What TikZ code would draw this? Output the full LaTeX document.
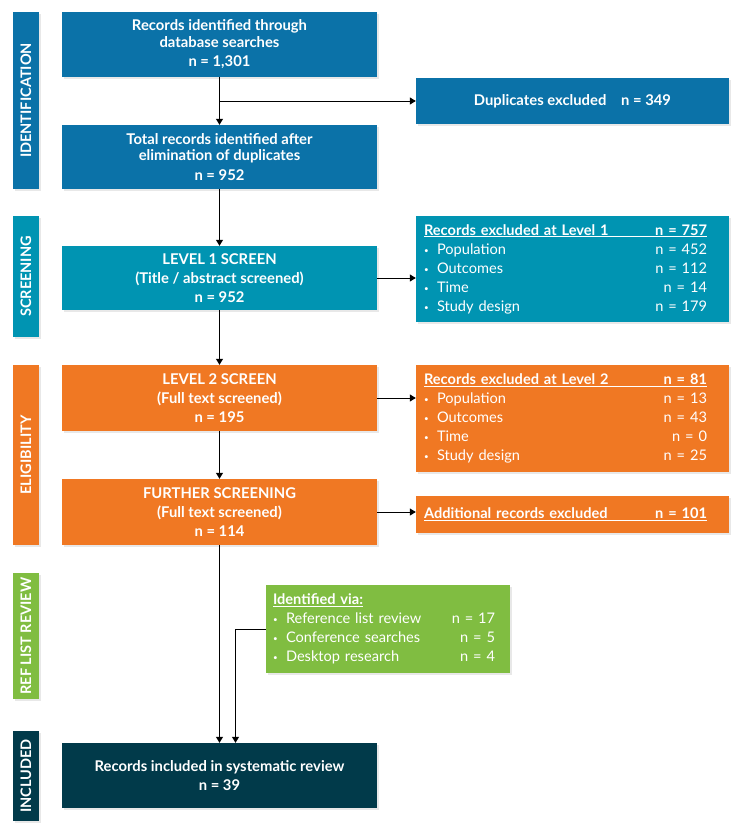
\documentclass[tikz,border=0pt]{standalone}
\usepackage{fontspec}
\setmainfont{Lato}
\usetikzlibrary{arrows.meta, positioning, shadows}
\definecolor{prsIdent}{HTML}{0B72A8}
\definecolor{prsScreen}{HTML}{0094B2}
\definecolor{prsElig}{HTML}{F07823}
\definecolor{prsRef}{HTML}{80BD41}
\definecolor{prsIncl}{HTML}{013A4A}
\newcommand{\exrow}[3][283pt]{\makebox[#1][l]{\makebox[13pt][l]{\raisebox{1pt}{\footnotesize\textbullet}}#2\hfill n = #3}}
\newcommand{\exhead}[2]{\underline{\makebox[283pt][l]{\bfseries #1\hfill n = #2}}}

\begin{document}
\begin{tikzpicture}[x=1pt, y=-1pt,
        box/.style={text=white, align=center, font=\fontsize{14.8}{16.5}\selectfont\bfseries, minimum width=315pt, inner sep=0pt, drop shadow={opacity=0.18, shadow xshift=1.5pt, shadow yshift=-2pt}},
        exbox/.style={text=white, align=left, font=\fontsize{14.6}{19}\selectfont, text width=297pt, inner xsep=8pt, inner ysep=0pt, drop shadow={opacity=0.18, shadow xshift=1.5pt, shadow yshift=-2pt}},
        side/.style={text=white, rotate=90, font=\fontsize{14.5}{15}\selectfont\bfseries, minimum height=26pt, inner sep=0pt, drop shadow={opacity=0.18, shadow xshift=1.5pt, shadow yshift=-2pt}},
        arr/.style={line width=1pt, -{Triangle[width=7pt, length=6pt]}}]
        \useasboundingbox (0,0) rectangle (750,835);
        \node[side, fill=prsIdent, minimum width=177pt] (sidA) at (26,100.5) {IDENTIFICATION};
        \node[side, fill=prsScreen, minimum width=121pt] (sidB) at (26,276.5) {SCREENING};
        \node[side, fill=prsElig, minimum width=180pt] (sidC) at (26,455) {ELIGIBILITY};
        \node[side, fill=prsRef, minimum width=126pt] (sidD) at (26,636) {REF LIST REVIEW};
        \node[side, fill=prsIncl, minimum width=90pt] (sidE) at (26,776) {INCLUDED};
        \node[box, fill=prsIdent, minimum height=65pt] (idb) at (219.5,44.5) {Records identified through\\database searches\\[3pt]n = 1,301};
        \node[box, fill=prsIdent, minimum height=64pt] (tot) at (219.5,157) {Total records identified after\\elimination of duplicates\\[3pt]n = 952};
        \node[box, fill=prsScreen, minimum height=64pt] (lv1) at (219.5,278) {LEVEL 1 SCREEN\\[2.5pt](Title / abstract screened)\\[2.5pt]n = 952};
        \node[box, fill=prsElig, minimum height=66pt] (lv2) at (219.5,398) {LEVEL 2 SCREEN\\[2.5pt](Full text screened)\\[2.5pt]n = 195};
        \node[box, fill=prsElig, minimum height=66pt] (fur) at (219.5,512) {FURTHER SCREENING\\[2.5pt](Full text screened)\\[2.5pt]n = 114};
        \node[box, fill=prsIncl, minimum height=65pt] (inc) at (219.5,775.5) {Records included in systematic review\\[3pt]n = 39};
        \node[box, fill=prsIdent, minimum width=313pt, minimum height=46pt] (dup) at (572.5,101) {Duplicates excluded\quad n = 349};
        \node[exbox, fill=prsScreen, minimum height=106pt] (exa) at (572.5,269) {\exhead{Records excluded at Level 1}{757}\\
          \exrow{Population}{452}\\
          \exrow{Outcomes}{112}\\
          \exrow{Time}{14}\\
          \exrow{Study design}{179}};
        \node[exbox, fill=prsElig, minimum height=107pt] (exb) at (572.5,418.5) {\exhead{Records excluded at Level 2}{81}\\
          \exrow{Population}{13}\\
          \exrow{Outcomes}{43}\\
          \exrow{Time}{0}\\
          \exrow{Study design}{25}};
        \node[exbox, fill=prsElig, minimum height=37pt] (add) at (572.5,514.5) {\exhead{Additional records excluded}{101}};
        \node[exbox, fill=prsRef, text width=230pt, inner xsep=7pt, minimum height=88pt] (ref) at (388,629) {\underline{\bfseries Identified via:}\\
          \exrow[222pt]{Reference list review}{17}\\
          \exrow[222pt]{Conference searches}{5}\\
          \exrow[222pt]{Desktop research}{4}};
        \coordinate (join) at ([xshift=16pt]inc.north);
        \draw[arr] (idb.south) -- (tot.north);
        \draw[arr] (idb.south |- dup.west) -- (dup.west);
        \draw[arr] (tot.south) -- (lv1.north);
        \draw[arr] (lv1.east) -- (lv1.east -| exa.west);
        \draw[arr] (lv1.south) -- (lv2.north);
        \draw[arr] (lv2.east) -- (lv2.east -| exb.west);
        \draw[arr] (lv2.south) -- (fur.north);
        \draw[arr] (fur.east) -- (fur.east -| add.west);
        \draw[arr] (fur.south) -- (inc.north);
        \draw[arr] (ref.west) -| (join);
      \end{tikzpicture}
\end{document}
